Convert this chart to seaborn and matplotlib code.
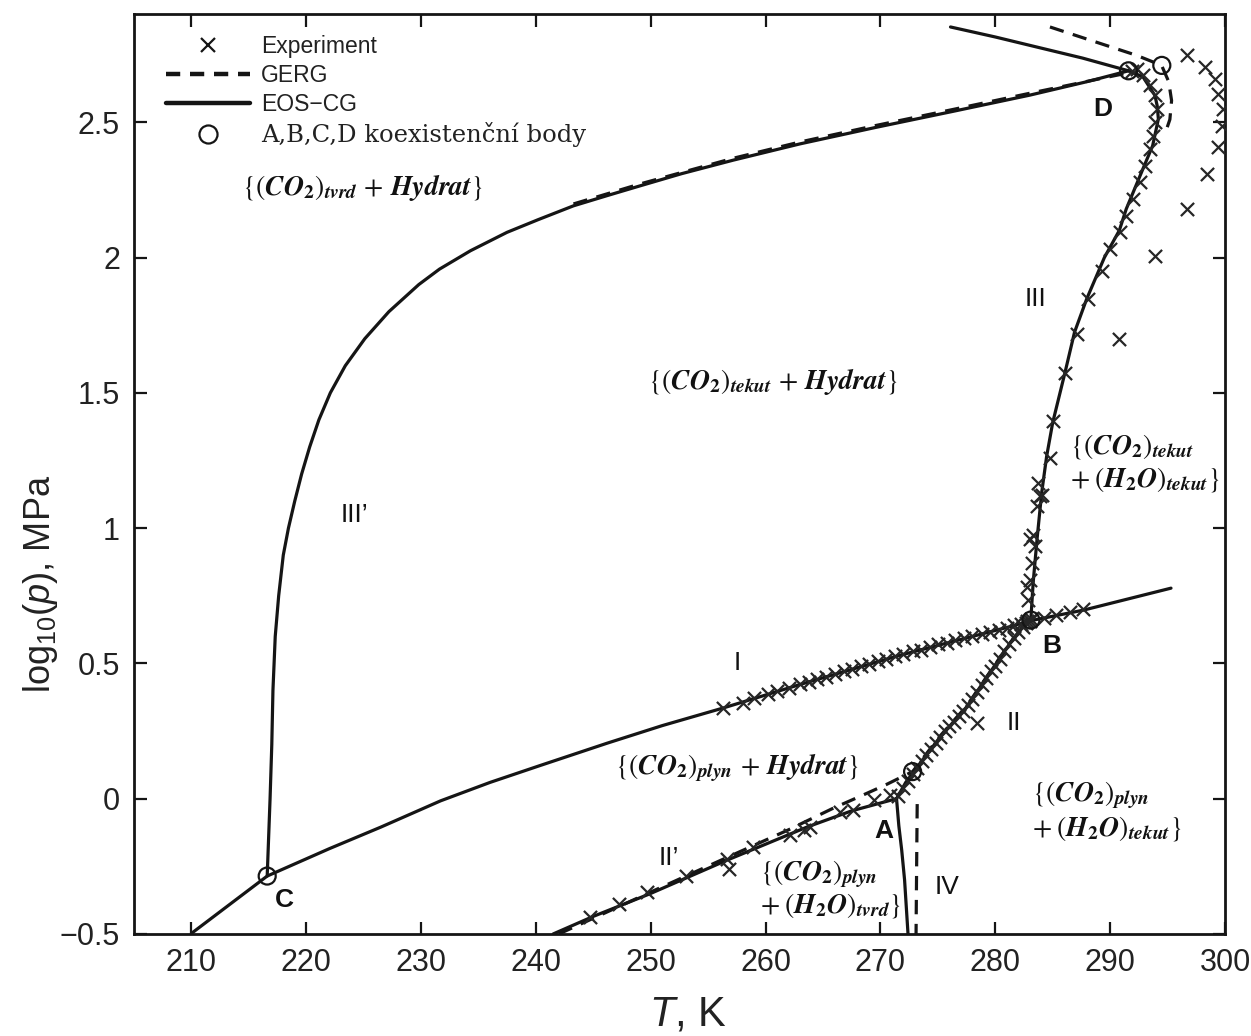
import numpy as np
import pandas as pd
import seaborn as sns
import matplotlib
matplotlib.use("Agg")
import matplotlib.pyplot as plt
from matplotlib.lines import Line2D

# ---------------- data ----------------
# EOS-CG curves
I_T = [210.0, 216.6, 222.0, 226.5, 231.7, 236.0, 240.4, 246.2, 251.0, 256.3, 263.0, 271.7, 281.3, 283.1, 287.7, 295.3]
I_y = [-0.498, -0.286, -0.185, -0.105, -0.008, 0.06, 0.123, 0.205, 0.27, 0.335, 0.422, 0.53, 0.636, 0.658, 0.697, 0.778]

II_T = [271.4, 272.2, 273.2, 275.2, 277.5, 279.5, 281.3, 282.7, 283.1]
II_y = [0.0, 0.06, 0.117, 0.228, 0.339, 0.464, 0.575, 0.654, 0.665]

IIp_T = [241.5, 245.0, 249.9, 256.6, 263.6, 267.5, 271.4]
IIp_y = [-0.5, -0.435, -0.352, -0.228, -0.105, -0.045, 0.0]

III_T = [283.1, 283.3, 283.63, 284.04, 284.47, 285.0, 286.07, 286.9, 287.95, 289.5, 290.8,
         291.4, 292.85, 293.7, 294.2, 294.1, 293.9, 292.85, 291.6]
III_y = [0.665, 0.8, 0.957, 1.131, 1.265, 1.39, 1.575, 1.724, 1.846, 2.0, 2.1,
         2.179, 2.327, 2.413, 2.512, 2.56, 2.599, 2.668, 2.69]

IIIp_T = [216.6, 216.85, 217.0, 217.1, 217.3, 217.6, 218.0, 218.45, 219.0, 219.6, 220.3, 221.1,
          222.1, 223.4, 225.1, 227.2, 229.8, 231.6, 234.3, 237.48, 240.2, 243.27, 246.3, 249.08,
          252.7, 257.2, 263.0, 269.5, 276.3, 283.0, 288.0, 291.6]
IIIp_y = [-0.286, 0.0, 0.2, 0.4, 0.6, 0.75, 0.9, 1.0, 1.1, 1.2, 1.3, 1.4,
          1.5, 1.6, 1.7, 1.8, 1.9, 1.957, 2.025, 2.093, 2.14, 2.191, 2.23, 2.265,
          2.31, 2.36, 2.42, 2.48, 2.54, 2.6, 2.65, 2.69]

top_T = [276.1, 280.0, 283.6, 287.6, 291.6]
top_y = [2.852, 2.815, 2.778, 2.737, 2.69]

IV_T = [271.4, 271.6, 271.85, 272.1, 272.4]
IV_y = [0.0, -0.1, -0.19, -0.3, -0.5]

# GERG curves
G_II_T = [242.0, 250.0, 256.5, 262.0, 265.9, 268.2, 270.5, 272.8, 275.2, 277.5, 279.5, 281.3, 283.1]
G_II_y = [-0.5, -0.345, -0.22, -0.115, -0.035, 0.008, 0.052, 0.10, 0.232, 0.342, 0.466, 0.577, 0.667]

G_IV_T = [273.2, 273.15, 273.1]
G_IV_y = [-0.02, -0.25, -0.5]

G_top_T = [284.76, 288.5, 292.31, 294.48, 295.1, 295.35, 295.2, 294.8]
G_top_y = [2.852, 2.80, 2.747, 2.71, 2.65, 2.58, 2.51, 2.46]

G_IIIp_T = [243.27, 249.08, 257.2, 263.0, 269.5, 276.3, 283.0, 291.3]
G_IIIp_y = [2.198, 2.272, 2.367, 2.427, 2.487, 2.547, 2.607, 2.68]

# Experimental points
E_I_T = [256.3, 258.0, 259.0, 260.2, 261.0, 262.0, 263.0, 263.8, 264.5, 265.3, 266.0, 266.8, 267.5,
         268.3, 269.0, 269.8, 270.5, 271.3, 272.0, 272.8, 273.5, 274.3, 275.0, 275.8, 276.5, 277.3,
         278.0, 278.8, 279.5, 280.3, 281.0, 281.6, 282.2, 282.7, 283.0, 284.2, 285.3, 286.5, 287.6]
E_I_y = [0.335, 0.355, 0.372, 0.385, 0.397, 0.41, 0.425, 0.43, 0.442, 0.45, 0.462, 0.47, 0.48,
         0.49, 0.498, 0.51, 0.518, 0.526, 0.535, 0.546, 0.55, 0.562, 0.57, 0.576, 0.585, 0.595,
         0.60, 0.61, 0.615, 0.625, 0.632, 0.64, 0.645, 0.65, 0.655, 0.668, 0.68, 0.69, 0.70]

E_II_T = [271.5, 272.0, 272.4, 272.8, 273.2, 273.6, 274.0, 274.4, 274.8, 275.2, 275.6, 276.0, 276.4,
          276.8, 277.2, 277.6, 278.0, 278.4, 278.8, 279.2, 279.6, 280.0, 280.4, 280.8, 281.2, 281.6,
          282.0, 282.4, 282.8, 283.1, 278.4]
E_II_y = [0.01, 0.04, 0.065, 0.09, 0.115, 0.14, 0.16, 0.185, 0.205, 0.228, 0.25, 0.27, 0.285,
          0.305, 0.325, 0.345, 0.37, 0.395, 0.42, 0.445, 0.47, 0.49, 0.515, 0.545, 0.57, 0.595,
          0.615, 0.635, 0.655, 0.665, 0.278]

E_IIp_T = [244.7, 247.2, 249.7, 253.1, 256.8, 256.6, 258.9, 262.1, 263.3, 263.9, 266.5, 267.6, 269.4, 270.8]
E_IIp_y = [-0.439, -0.389, -0.346, -0.284, -0.259, -0.222, -0.179, -0.135, -0.117, -0.105, -0.05, -0.043, -0.006, 0.012]

E_III_T = [282.85, 282.73, 283.02, 283.17, 283.45, 283.28, 283.0, 283.6, 283.9, 284.04, 283.74, 284.76,
           285.02, 286.07, 287.08, 288.1, 289.26, 290.0, 290.85, 291.4, 292.0, 292.6, 293.0, 293.46,
           293.75, 293.9, 294.05, 293.9, 293.46, 292.9, 292.3, 291.9]
E_III_y = [0.734, 0.784, 0.808, 0.871, 0.932, 0.975, 0.96, 1.08, 1.117, 1.123, 1.167, 1.26,
           1.395, 1.574, 1.716, 1.845, 1.95, 2.031, 2.093, 2.154, 2.216, 2.278, 2.339, 2.401,
           2.45, 2.5, 2.549, 2.599, 2.636, 2.673, 2.697, 2.691]

E_far_T = [296.65, 298.25, 299.1, 299.4, 299.8, 299.7, 299.4, 298.4, 296.65, 293.9, 290.8]
E_far_y = [2.747, 2.705, 2.66, 2.605, 2.549, 2.487, 2.409, 2.309, 2.179, 2.006, 1.70]

# coexistence points
circ_T = [216.6, 272.8, 283.1, 291.6, 294.5]
circ_y = [-0.286, 0.10, 0.66, 2.69, 2.71]

# ---------------- figure ----------------
sns.set_theme(style="ticks")
plt.rcParams['font.family'] = ['Liberation Sans', 'DejaVu Sans']
plt.rcParams['mathtext.fontset'] = 'custom'
plt.rcParams['mathtext.rm'] = 'Liberation Sans'
plt.rcParams['mathtext.it'] = 'Liberation Sans:italic'
plt.rcParams['mathtext.bf'] = 'Liberation Sans:bold'

fig = plt.figure(figsize=(12.51, 10.36), dpi=100)
ax = fig.add_axes([0.1071, 0.0985, 0.8721, 0.888])

K = '#151515'
LW = 2.3
DASH = (0, (4.5, 3.0))

def line(T, y, dashed=False):
    sns.lineplot(x=np.array(T), y=np.array(y), sort=False, estimator=None, ax=ax,
                 color=K, lw=LW, linestyle=DASH if dashed else '-')

for T, y in [(I_T, I_y), (II_T, II_y), (IIp_T, IIp_y), (III_T, III_y),
             (IIIp_T, IIIp_y), (top_T, top_y), (IV_T, IV_y)]:
    line(T, y)
for T, y in [(G_II_T, G_II_y), (G_IV_T, G_IV_y), (G_top_T, G_top_y), (G_IIIp_T, G_IIIp_y)]:
    line(T, y, dashed=True)

exp_T = E_I_T + E_II_T + E_IIp_T + E_III_T + E_far_T
exp_y = E_I_y + E_II_y + E_IIp_y + E_III_y + E_far_y
sns.scatterplot(x=exp_T, y=exp_y, marker='x', s=90, color='#262626', linewidth=1.6, ax=ax, zorder=3)

ax.scatter(circ_T, circ_y, s=150, facecolors='none', edgecolors=K, linewidths=1.6, zorder=4)

ax.set_xlim(205, 300)
ax.set_ylim(-0.5, 2.9)
ax.set_xticks(np.arange(210, 301, 10))
ax.set_yticks([-0.5, 0, 0.5, 1, 1.5, 2, 2.5])
ax.set_yticklabels(['\u22120.5', '0', '0.5', '1', '1.5', '2', '2.5'])
ax.tick_params(direction='in', length=9, width=1.6, top=True, right=True,
               labelsize=22, pad=10, colors=K, labelcolor='#222222')
for s in ax.spines.values():
    s.set_linewidth(2.0)
    s.set_color(K)

ax.set_xlabel(r'$\mathit{T}$, K', fontsize=30, color='#222222')
ax.xaxis.set_label_coords(0.508, -0.066)
ax.set_ylabel(r'$\mathrm{log}_{10}(\mathit{p})$, MPa', fontsize=26, color='#222222')
ax.yaxis.set_label_coords(-0.068, 0.38)

# legend
handles = [Line2D([], [], ls='none', marker='x', ms=9.5, mew=1.6, color=K),
           Line2D([], [], ls=(0, (3.2, 2.2)), lw=3.2, color=K),
           Line2D([], [], ls='-', lw=3.2, color=K),
           Line2D([], [], ls='none', marker='o', ms=13, mfc='none', mew=1.6, color=K)]
labels = ['Experiment', 'GERG', 'EOS\u2212CG', 'A,B,C,D koexistenční body']
leg = ax.legend(handles, labels, loc='upper left', bbox_to_anchor=(0.029, 0.977),
                frameon=False, fontsize=16.5, handlelength=3.7, handletextpad=0.45,
                labelspacing=0.26, borderpad=0, borderaxespad=0)
t4 = leg.get_texts()[3]
t4.set_fontfamily('DejaVu Serif')
t4.set_fontsize(17.5)
for t in leg.get_texts():
    t.set_color('#222222')

# curve labels
lab = dict(fontsize=19, color='#111111', ha='center', va='center')
ax.text(257.5, 0.50, 'I', **lab)
ax.text(281.6, 0.28, 'II', **lab)
ax.text(251.6, -0.22, 'II\u2019', **lab)
ax.text(283.5, 1.845, 'III', **lab)
ax.text(224.2, 1.05, 'III\u2019', **lab)
ax.text(275.8, -0.325, 'IV', **lab)

pt = dict(fontsize=19, fontweight='bold', color='#111111', ha='center', va='center')
ax.text(270.3, -0.12, 'A', **pt)
ax.text(284.9, 0.565, 'B', **pt)
ax.text(218.1, -0.375, 'C', **pt)
ax.text(289.4, 2.55, 'D', **pt)

def region(x, y, s, ha='center'):
    t = ax.text(x, y, s, fontsize=20, ha=ha, va='center', color='#111111')
    t.set_math_fontfamily('stix')

region(224.9, 2.26, r'$\{(\mathbfit{CO}_{\mathbf{2}})_{\mathbfit{tvrd}}\,+\,\mathbfit{Hydrat}\}$')
region(260.6, 1.54, r'$\{(\mathbfit{CO}_{\mathbf{2}})_{\mathbfit{tekut}}\,+\,\mathbfit{Hydrat}\}$')
region(257.5, 0.113, r'$\{(\mathbfit{CO}_{\mathbf{2}})_{\mathbfit{plyn}}\,+\,\mathbfit{Hydrat}\}$')
region(286.5, 1.30, r'$\{(\mathbfit{CO}_{\mathbf{2}})_{\mathbfit{tekut}}$', ha='left')
region(286.5, 1.18, r'$+\;(\mathbfit{H}_{\mathbf{2}}\mathbfit{O})_{\mathbfit{tekut}}\}$', ha='left')
region(259.5, -0.28, r'$\{(\mathbfit{CO}_{\mathbf{2}})_{\mathbfit{plyn}}$', ha='left')
region(259.5, -0.395, r'$+\;(\mathbfit{H}_{\mathbf{2}}\mathbfit{O})_{\mathbfit{tvrd}}\}$', ha='left')
region(283.2, 0.013, r'$\{(\mathbfit{CO}_{\mathbf{2}})_{\mathbfit{plyn}}$', ha='left')
region(283.2, -0.11, r'$+\;(\mathbfit{H}_{\mathbf{2}}\mathbfit{O})_{\mathbfit{tekut}}\}$', ha='left')

fig.savefig('out.png', dpi=100, facecolor='white')
